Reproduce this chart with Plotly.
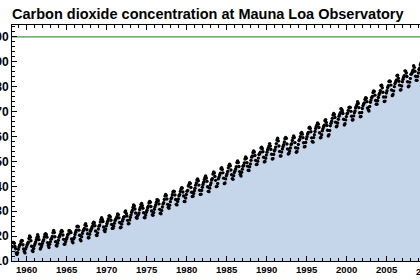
import plotly.graph_objects as go

# Monthly mean CO2 (ppm), Mauna Loa, starting March 1958
start_year = 1958
start_month = 3  # March

co2_1950s = [315.71, 317.45, 317.50, 317.10, 315.86, 314.93, 313.20, 312.66, 313.33, 314.67,
             315.62, 316.38, 316.71, 317.72, 318.29, 318.15, 316.54, 314.80, 313.84, 313.26, 314.80, 315.58]
co2_1960s = [316.43, 316.97, 317.58, 319.02, 320.03, 319.59, 318.18, 315.91, 314.16, 313.83, 315.00, 316.19,
             316.93, 317.70, 318.54, 319.48, 320.58, 319.77, 318.57, 316.79, 314.80, 315.38, 316.10, 317.01,
             317.94, 318.56, 319.68, 320.63, 321.01, 320.55, 319.58, 317.40, 316.26, 315.42, 316.69, 317.69,
             318.74, 319.08, 319.86, 321.39, 322.25, 321.47, 319.74, 317.77, 316.21, 315.99, 317.12, 318.31,
             319.57, 320.07, 320.73, 321.77, 322.25, 321.89, 320.44, 318.70, 316.70, 316.79, 317.79, 318.71,
             319.44, 320.44, 320.89, 322.13, 322.16, 321.87, 321.39, 318.81, 317.81, 317.30, 318.87, 319.42,
             320.62, 321.59, 322.39, 323.87, 324.01, 323.75, 322.39, 320.37, 318.64, 318.10, 319.79, 321.08,
             322.07, 322.50, 323.04, 324.42, 325.00, 324.09, 322.55, 320.92, 319.31, 319.31, 320.72, 321.96,
             322.57, 323.15, 323.89, 325.02, 325.57, 325.36, 324.14, 322.03, 320.41, 320.25, 321.31, 322.84,
             324.00, 324.42, 325.64, 326.66, 327.38, 326.70, 325.89, 323.67, 322.38, 321.78, 322.85, 324.12]
co2_1970s = [325.06, 325.98, 326.93, 328.13, 328.07, 327.66, 326.35, 324.69, 323.10, 323.16, 323.98, 325.13,
             326.17, 326.68, 327.18, 327.78, 328.92, 328.57, 327.34, 325.46, 323.36, 323.57, 324.80, 326.01,
             326.77, 327.63, 327.75, 329.72, 330.07, 329.09, 328.05, 326.32, 324.93, 325.06, 326.50, 327.55,
             328.54, 329.56, 330.30, 331.50, 332.48, 332.07, 330.87, 329.31, 327.51, 327.18, 328.16, 328.64,
             329.35, 330.71, 331.48, 332.65, 333.09, 332.25, 331.18, 329.40, 327.43, 327.37, 328.46, 329.57,
             330.40, 331.40, 332.04, 333.31, 333.96, 333.59, 331.91, 330.06, 328.56, 328.34, 329.49, 330.76,
             331.75, 332.56, 333.50, 334.58, 334.57, 334.19, 332.94, 330.74, 329.22, 328.94, 330.31, 331.68,
             332.93, 333.42, 334.70, 336.07, 336.74, 336.27, 334.93, 332.75, 331.58, 331.16, 332.40, 333.85,
             334.97, 335.39, 336.64, 337.76, 338.01, 337.89, 336.54, 334.68, 332.76, 332.54, 333.92, 334.95,
             336.23, 336.76, 337.96, 338.89, 339.47, 339.29, 337.73, 336.09, 333.91, 333.86, 335.29, 336.73]
co2_1980s = [338.01, 338.36, 340.08, 340.77, 341.46, 341.17, 339.56, 337.60, 335.88, 336.01, 337.10, 338.21,
             339.23, 340.47, 341.38, 342.51, 342.91, 342.25, 340.49, 338.43, 336.69, 336.86, 338.36, 339.61,
             340.75, 341.61, 342.70, 343.56, 344.13, 343.35, 342.06, 339.82, 337.97, 337.86, 339.26, 340.49,
             341.37, 342.52, 343.10, 344.94, 345.75, 345.32, 343.99, 342.39, 339.86, 339.99, 341.16, 342.99,
             343.70, 344.51, 345.28, 347.08, 347.43, 346.79, 345.40, 343.28, 341.07, 341.35, 342.98, 344.22,
             344.97, 345.99, 347.42, 348.35, 348.93, 348.25, 346.56, 344.67, 343.09, 342.80, 344.24, 345.56,
             346.29, 346.96, 347.86, 349.55, 350.21, 349.54, 347.94, 345.91, 344.86, 344.17, 345.66, 346.90,
             348.02, 348.47, 349.42, 350.99, 351.84, 351.25, 349.52, 348.10, 346.44, 346.36, 347.81, 348.96,
             350.43, 351.72, 352.22, 353.59, 354.22, 353.79, 352.39, 350.44, 348.72, 348.88, 350.07, 351.34,
             352.76, 353.07, 353.68, 355.42, 355.67, 355.13, 353.90, 351.67, 349.80, 349.99, 351.30, 352.53]
co2_1990s = [353.66, 354.70, 355.39, 356.20, 357.16, 356.22, 354.82, 352.91, 350.96, 351.18, 352.83, 354.21,
             354.72, 355.75, 357.16, 358.60, 359.34, 358.24, 356.17, 354.03, 352.16, 352.21, 353.75, 354.99,
             355.98, 356.72, 357.81, 359.15, 359.66, 359.25, 357.02, 355.00, 353.01, 353.31, 354.16, 355.40,
             356.70, 357.16, 358.38, 359.46, 360.28, 359.60, 357.57, 355.52, 353.70, 353.98, 355.33, 356.80,
             358.36, 358.91, 359.97, 361.26, 361.68, 360.95, 359.55, 357.49, 355.84, 355.99, 357.58, 359.04,
             359.96, 361.00, 361.64, 363.45, 363.79, 363.26, 361.90, 359.46, 358.06, 357.75, 359.56, 360.70,
             362.05, 363.25, 364.03, 364.72, 365.41, 364.97, 363.65, 361.49, 359.46, 359.60, 360.76, 362.33,
             363.18, 364.00, 364.57, 366.35, 366.79, 365.62, 364.47, 362.51, 360.19, 360.77, 362.43, 364.28,
             365.32, 366.15, 367.31, 368.61, 369.29, 368.87, 367.64, 365.77, 363.90, 364.23, 365.46, 366.97,
             368.15, 368.87, 369.59, 371.14, 371.00, 370.35, 369.27, 366.94, 364.63, 365.12, 366.67, 368.01]
co2_2000s = [369.14, 369.46, 370.52, 371.66, 371.82, 371.70, 370.12, 368.12, 366.62, 366.73, 368.29, 369.53,
             370.28, 371.50, 372.12, 372.87, 374.02, 373.30, 371.62, 369.55, 367.96, 368.09, 369.68, 371.24,
             372.43, 373.09, 373.52, 374.86, 375.55, 375.40, 374.02, 371.49, 370.71, 370.25, 372.08, 373.78,
             374.68, 375.63, 376.11, 377.65, 378.35, 378.13, 376.62, 374.50, 372.99, 373.01, 374.35, 375.70,
             376.79, 377.37, 378.41, 380.52, 380.63, 379.57, 377.79, 375.86, 374.06, 374.24, 375.86, 377.48,
             378.37, 379.69, 380.41, 382.10, 382.28, 382.13, 380.66, 378.71, 376.42, 376.88, 378.32, 380.04,
             381.29, 381.90, 382.62, 384.42, 384.62, 383.41, 382.20, 380.64, 378.64, 378.80, 380.29, 381.99,
             382.98, 383.85, 384.48, 386.38, 386.29, 385.49, 384.14, 381.98, 380.00, 380.28, 381.85, 383.34,
             384.98, 385.18, 385.87, 386.64, 388.43, 387.76, 386.20, 384.23, 382.59, 382.57, 384.09, 385.52,
             386.93, 387.41, 388.77, 389.46, 390.18, 389.43, 387.74, 385.91, 384.87, 384.37, 386.01, 387.42]

reference_level = 400
x_tick_labels = ["1960", "1965", "1970", "1975", "1980", "1985", "1990", "1995", "2000", "2005", "2010"]
title_text = "Carbon dioxide concentration at Mauna Loa Observatory"

co2 = co2_1950s + co2_1960s + co2_1970s + co2_1980s + co2_1990s + co2_2000s
t = [start_year + (start_month - 1 + i + 0.5) / 12.0 for i in range(len(co2))]

x0, x1 = 1958.17, 2009.17
y0, y1 = 310, 404.8

fig = go.Figure()
fig.add_trace(go.Scatter(x=t, y=co2, mode="lines", line=dict(width=0, color="#c5d5ea"),
                         fill="tozeroy", fillcolor="#c5d5ea", hoverinfo="skip", showlegend=False))
fig.add_trace(go.Scatter(x=[x0 - 5, x1 + 5], y=[reference_level, reference_level], mode="lines",
                         line=dict(color="#3f9a43", width=1.2), showlegend=False))
fig.add_trace(go.Scatter(x=t, y=co2, mode="markers",
                         marker=dict(color="black", size=3.4, line=dict(width=0)), showlegend=False))

tickfont = dict(family="Liberation Sans, Arial, sans-serif", size=9.5, color="black", weight="bold")
fig.update_xaxes(range=[x0, x1], tickmode="array",
                 tickvals=[int(v) for v in x_tick_labels], ticktext=x_tick_labels,
                 ticks="inside", ticklen=5, tickwidth=1, tickcolor="black",
                 minor=dict(dtick=1, tick0=1960, ticks="inside", ticklen=3, tickcolor="black", tickwidth=1),
                 showline=True, linecolor="black", linewidth=1, mirror="ticks",
                 showgrid=False, zeroline=False, tickfont=tickfont, automargin=False)
fig.update_yaxes(range=[y0, y1], dtick=10, tick0=310,
                 ticks="inside", ticklen=5, tickwidth=1, tickcolor="black",
                 minor=dict(dtick=2, ticks="inside", ticklen=3, tickcolor="black", tickwidth=1),
                 showline=True, linecolor="black", linewidth=1, mirror=False,
                 showgrid=False, zeroline=False, automargin=False,
                 tickfont=dict(family="Liberation Sans, Arial, sans-serif", size=12, color="black", weight="bold"))

fig.add_annotation(xref="paper", yref="paper", x=(2010 - x0) / (x1 - x0), y=0, yshift=-3,
                   xanchor="center", yanchor="top", text="2010", showarrow=False,
                   font=tickfont)

fig.update_layout(
    width=420, height=280,
    margin=dict(l=12, r=0, t=25, b=19),
    paper_bgcolor="white", plot_bgcolor="white",
    title=dict(text=title_text, x=12 / 420, xanchor="left", xref="container",
               y=1 - 14 / 280, yanchor="middle", yref="container",
               font=dict(family="Liberation Sans, Arial, sans-serif", size=14.5, color="black", weight="bold")),
)

fig.write_html("out.html")
